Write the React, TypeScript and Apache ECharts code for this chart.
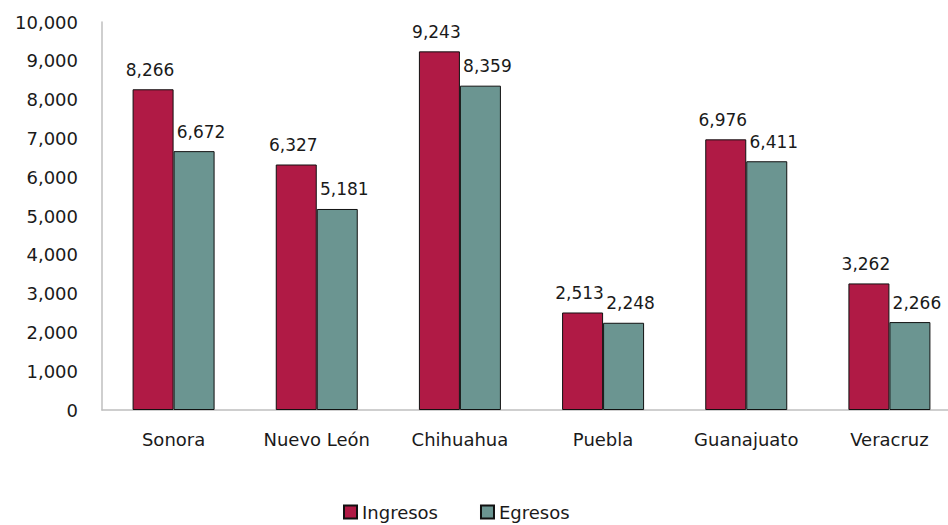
import React, { useEffect, useRef } from "react";
import * as echarts from "echarts";

const categories = ["Sonora", "Nuevo León", "Chihuahua", "Puebla", "Guanajuato", "Veracruz"];
const ingresos = [8266, 6327, 9243, 2513, 6976, 3262];
const egresos = [6672, 5181, 8359, 2248, 6411, 2266];
const seriesNames = ["Ingresos", "Egresos"];
const colors = ["#B01A45", "#6B9591"];

const FONT = "'DejaVu Sans', sans-serif";

export default function App() {
  const ref = useRef<HTMLDivElement>(null);
  useEffect(() => {
    if (!ref.current) return;
    const chart = echarts.init(ref.current, undefined, { renderer: "svg" });
    const fmt = (v: number) => v.toLocaleString("en-US");
    const labelCfg = (dx: number) => ({
      show: true,
      position: "top",
      distance: 11,
      offset: [dx, 0],
      color: "#1a1a1a",
      fontSize: 17,
      fontFamily: FONT,
      formatter: (p: any) => fmt(p.value),
    });
    chart.setOption({
      animation: false,
      grid: { left: 102, top: 22, bottom: 115, right: 0 },
      legend: {
        data: seriesNames,
        bottom: 4,
        left: 343,
        padding: 0,
        itemWidth: 13,
        itemHeight: 13,
        itemGap: 42,
        icon: "rect",
        textStyle: { fontSize: 18, color: "#1a1a1a", fontFamily: FONT },
      },
      xAxis: {
        type: "category",
        data: categories,
        axisLine: { lineStyle: { color: "#BFBFBF", width: 1.5 } },
        axisTick: { show: false },
        axisLabel: { fontSize: 18, color: "#1a1a1a", fontFamily: FONT, margin: 20 },
      },
      yAxis: {
        type: "value",
        min: 0,
        max: 10000,
        interval: 1000,
        axisLine: { show: true, lineStyle: { color: "#BFBFBF", width: 1.5 } },
        axisTick: { show: false },
        splitLine: { show: false },
        axisLabel: { fontSize: 18, color: "#1a1a1a", fontFamily: FONT, margin: 24, formatter: (v: number) => fmt(v) },
      },
      series: [
        {
          name: seriesNames[0],
          type: "bar",
          data: ingresos,
          barWidth: 41,
          barGap: "0%",
          itemStyle: { color: colors[0], borderColor: "#111", borderWidth: 1 },
          label: labelCfg(-3),
        },
        {
          name: seriesNames[1],
          type: "bar",
          data: egresos,
          barWidth: 41,
          barGap: "0%",
          itemStyle: { color: colors[1], borderColor: "#111", borderWidth: 1 },
          label: labelCfg(7),
        },
      ],
    });
    return () => chart.dispose();
  }, []);
  return (
    <div style={{ width: 948, height: 525, position: "absolute", left: 0, top: 0, overflow: "hidden" }}>
      <div ref={ref} style={{ width: 961, height: 525 }} />
    </div>
  );
}
